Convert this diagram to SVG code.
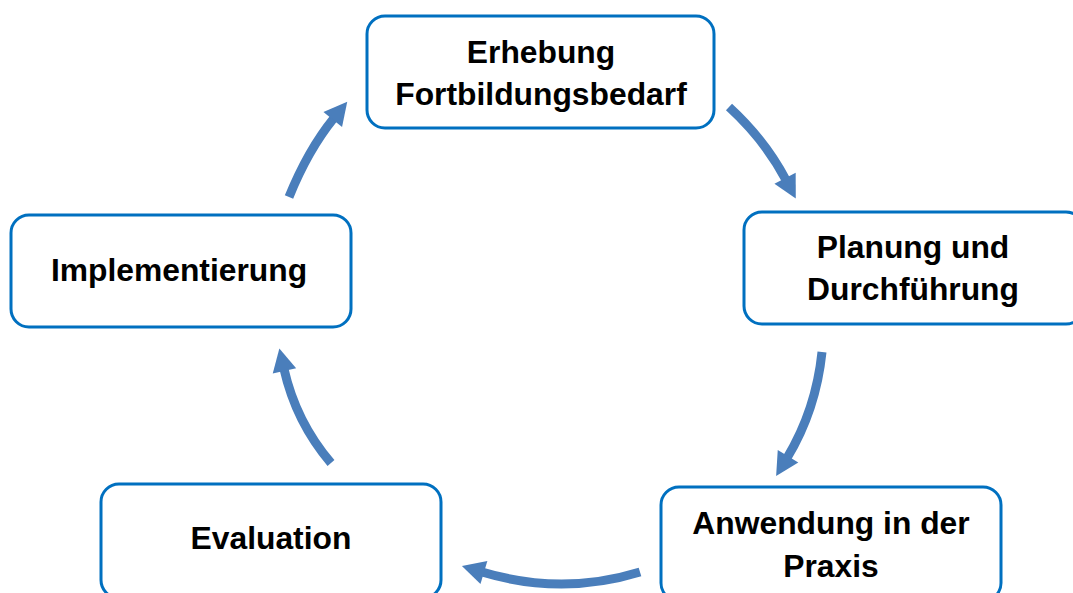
<svg xmlns="http://www.w3.org/2000/svg" width="1073" height="593" viewBox="0 0 1073 593">
  <defs>
    <style>
      .box { fill: #FFFFFF; stroke: #0070C0; stroke-width: 3; }
      .lbl { font-family: "Liberation Sans", Arial, sans-serif; font-weight: bold; font-size: 31.8px; fill: #000000; text-anchor: middle; }
      .arr { fill: none; stroke: #4A7EBB; stroke-width: 9; }
    </style>
    <marker id="head" markerUnits="userSpaceOnUse" markerWidth="30" markerHeight="30" refX="2" refY="0" orient="auto" overflow="visible">
      <path d="M0,-12 L23,0 L0,12 Z" fill="#4A7EBB"/>
    </marker>
  </defs>
  <rect x="0" y="0" width="1073" height="593" fill="#FFFFFF"/>

  <g id="connectors">
    <path class="arr" d="M729,107 Q765,140 786,180" marker-end="url(#head)"/>
    <path class="arr" d="M822,352 Q816,410 787,458" marker-end="url(#head)"/>
    <path class="arr" d="M640,572 Q562,596 482,572" marker-end="url(#head)"/>
    <path class="arr" d="M331,463 Q296,422 284,369" marker-end="url(#head)"/>
    <path class="arr" d="M289,197 Q308,150 334,118" marker-end="url(#head)"/>
  </g>

  <g id="node-erhebung">
    <rect class="box" x="367" y="16" width="347" height="112" rx="18"/>
    <text class="lbl" x="541" y="63">Erhebung</text>
    <text class="lbl" x="541" y="105">Fortbildungsbedarf</text>
  </g>

  <g id="node-planung">
    <rect class="box" x="744" y="212" width="340" height="112" rx="18"/>
    <text class="lbl" x="913" y="258">Planung und</text>
    <text class="lbl" x="913" y="300">Durchführung</text>
  </g>

  <g id="node-anwendung">
    <rect class="box" x="661" y="487" width="340" height="114" rx="18"/>
    <text class="lbl" x="831" y="534">Anwendung in der</text>
    <text class="lbl" x="831" y="577">Praxis</text>
  </g>

  <g id="node-evaluation">
    <rect class="box" x="101" y="484" width="340" height="114" rx="18"/>
    <text class="lbl" x="271" y="549">Evaluation</text>
  </g>

  <g id="node-implementierung">
    <rect class="box" x="11" y="215" width="340" height="112" rx="18"/>
    <text class="lbl" x="179" y="281">Implementierung</text>
  </g>
</svg>
